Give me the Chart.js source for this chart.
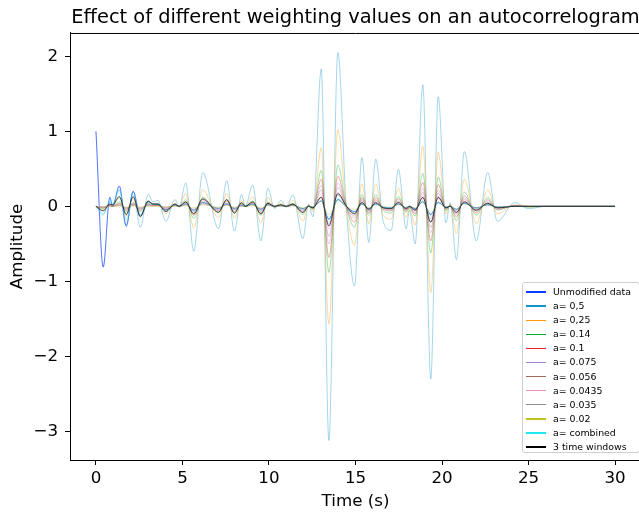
<!DOCTYPE html>
<html>
<head>
<meta charset="utf-8">
<script src="https://cdn.jsdelivr.net/npm/chart.js@4.4.0/dist/chart.umd.min.js"></script>
<style>
  body { margin: 0; background: #fff; overflow: hidden; }
  #wrap { position: relative; width: 639px; height: 512px; overflow: hidden; }
  #legend {
    position: absolute; left: 522px; top: 282px; width: 118px; height: 171px;
    border: 1px solid #d0d0d0; border-radius: 3px; background: rgba(255,255,255,0.85);
    box-sizing: border-box; padding-top: 2px;
    font-family: 'DejaVu Sans', sans-serif; font-size: 9.4px; color: #000;
  }
  .row { height: 14.1px; line-height: 14.1px; white-space: nowrap; display: flex; align-items: center; }
  .swatch { display: inline-block; width: 20px; height: 1.3px; margin-left: 3px; margin-right: 7px; }
</style>
</head>
<body>
<div id="wrap">
  <canvas id="chart" width="646" height="512"></canvas>
  <div id="legend"></div>
</div>
<script>
// Times (s) of the turning points
const times = [
  0, 0.42, 0.8, 0.96, 1.35, 1.75, 2.15, 2.56, 3.02, 3.3,
  3.58, 4.04, 4.56, 4.81, 5.19, 5.65, 6.17, 7.08, 7.56, 8.0,
  8.42, 8.63, 9.06, 9.53, 9.94, 10.32, 10.68, 11.0, 11.38, 11.96,
  12.29, 12.54, 13.02, 13.46, 13.98, 14.45, 14.94, 15.37, 15.77, 16.17,
  16.6, 17.06, 17.48, 17.93, 18.12, 18.45, 18.89, 19.35, 19.78, 20.23,
  20.47, 20.83, 21.29, 21.98, 22.64, 23.2, 24.2, 25.0, 26.0, 30.0
];

const unmodified = [
  1, -0.81, 0.12, 0, 0.27, -0.26, 0.2, -0.12, 0.06, 0.03,
  0.03, -0.05, 0.02, 0, 0.03, -0.05, 0.05, -0.03, 0.03, -0.03,
  0.01, 0, 0.03, -0.04, 0.02, 0, 0.01, 0, 0.02, -0.03,
  0, -0.01, 0.07, -0.17, 0.09, 0, -0.07, 0.03, -0.03, 0.03,
  -0.01, -0.02, 0.03, -0.02, 0, -0.03, 0.06, -0.11, 0.05, -0.01,
  0, -0.04, 0.04, -0.02, 0.02, -0.01, 0, 0, 0, 0
];
const a05 = [
  0, -0.1, 0.06, 0.03, 0.22, -0.27, 0.2, -0.28, 0.16, 0.06,
  0.08, -0.2, 0.09, -0.01, 0.31, -0.6, 0.45, -0.3, 0.34, -0.33,
  0.16, 0.0, 0.28, -0.46, 0.24, -0.03, 0.08, -0.01, 0.15, -0.43,
  0.03, -0.14, 1.83, -3.12, 2.05, 0.05, -1.06, 0.65, -0.48, 0.63,
  -0.2, -0.32, 0.49, -0.3, -0.05, -0.5, 1.62, -2.3, 1.46, -0.22,
  0.05, -0.71, 0.73, -0.46, 0.45, -0.2, 0.05, -0.03, 0, 0
];
const a025 = [
  0, -0.05, 0.03, 0.01, 0.11, -0.13, 0.1, -0.13, 0.08, 0.03,
  0.04, -0.1, 0.04, 0, 0.17, -0.29, 0.22, -0.15, 0.17, -0.16,
  0.08, 0, 0.13, -0.22, 0.12, -0.01, 0.04, 0, 0.08, -0.2,
  0.02, -0.07, 0.78, -1.57, 1.02, 0.03, -0.52, 0.3, -0.23, 0.3,
  -0.12, -0.17, 0.24, -0.15, -0.03, -0.25, 0.8, -1.15, 0.72, -0.1,
  0.03, -0.36, 0.36, -0.23, 0.22, -0.1, 0.02, -0.01, 0, 0
];
const a014 = [
  0, -0.03, 0.02, 0.01, 0.06, -0.07, 0.05, -0.07, 0.04, 0.02,
  0.02, -0.05, 0.02, 0, 0.09, -0.16, 0.12, -0.08, 0.09, -0.09,
  0.04, 0, 0.07, -0.12, 0.06, -0.01, 0.02, 0, 0.04, -0.11,
  0.01, -0.04, 0.48, -0.88, 0.55, 0.02, -0.28, 0.16, -0.12, 0.16,
  -0.06, -0.09, 0.13, -0.08, -0.02, -0.13, 0.44, -0.62, 0.39, -0.06,
  0.01, -0.19, 0.19, -0.12, 0.12, -0.05, 0.01, -0.01, 0, 0
];
const a01 = [
  0, -0.02, 0.01, 0, 0.04, -0.05, 0.04, -0.05, 0.03, 0.01,
  0.02, -0.04, 0.02, 0, 0.06, -0.12, 0.09, -0.06, 0.07, -0.07,
  0.03, 0, 0.05, -0.09, 0.05, -0.01, 0.02, 0, 0.03, -0.08,
  0.01, -0.03, 0.36, -0.68, 0.4, 0.01, -0.21, 0.12, -0.09, 0.12,
  -0.04, -0.06, 0.1, -0.06, -0.01, -0.1, 0.32, -0.46, 0.29, -0.04,
  0.01, -0.14, 0.14, -0.09, 0.09, -0.04, 0.01, 0, 0, 0
];
const a0075 = [
  0, -0.02, 0.01, 0, 0.03, -0.04, 0.03, -0.04, 0.02, 0.01,
  0.01, -0.03, 0.01, 0, 0.05, -0.09, 0.07, -0.05, 0.05, -0.05,
  0.02, 0, 0.04, -0.07, 0.04, 0, 0.01, 0, 0.02, -0.06,
  0, -0.02, 0.28, -0.5, 0.31, 0.01, -0.16, 0.1, -0.07, 0.09,
  -0.03, -0.05, 0.07, -0.05, -0.01, -0.08, 0.24, -0.35, 0.22, -0.03,
  0.01, -0.11, 0.11, -0.07, 0.07, -0.03, 0.01, 0, 0, 0
];
const a0056 = [
  0, -0.01, 0.01, 0, 0.02, -0.03, 0.02, -0.03, 0.02, 0.01,
  0.01, -0.02, 0.01, 0, 0.04, -0.07, 0.05, -0.04, 0.04, -0.04,
  0.02, 0, 0.03, -0.06, 0.03, 0, 0.01, 0, 0.02, -0.05,
  0, -0.02, 0.22, -0.4, 0.25, 0.01, -0.13, 0.08, -0.06, 0.08,
  -0.02, -0.04, 0.06, -0.04, -0.01, -0.06, 0.19, -0.28, 0.18, -0.03,
  0.01, -0.09, 0.09, -0.06, 0.05, -0.02, 0.01, 0, 0, 0
];
const a00435 = [
  0, -0.01, 0.01, 0, 0.02, -0.02, 0.02, -0.02, 0.01, 0.01,
  0.01, -0.02, 0.01, 0, 0.03, -0.05, 0.04, -0.03, 0.03, -0.03,
  0.01, 0, 0.02, -0.04, 0.02, 0, 0.01, 0, 0.01, -0.04,
  0, -0.01, 0.17, -0.3, 0.19, 0, -0.1, 0.06, -0.04, 0.06,
  -0.02, -0.03, 0.04, -0.03, 0, -0.05, 0.15, -0.21, 0.13, -0.02,
  0, -0.06, 0.07, -0.04, 0.04, -0.02, 0, 0, 0, 0
];
const a0035 = [
  0, -0.01, 0, 0, 0.01, -0.02, 0.01, -0.02, 0.01, 0,
  0.01, -0.01, 0.01, 0, 0.02, -0.04, 0.03, -0.02, 0.02, -0.02,
  0.01, 0, 0.02, -0.03, 0.02, 0, 0.01, 0, 0.01, -0.03,
  0, -0.01, 0.13, -0.23, 0.15, 0, -0.08, 0.05, -0.03, 0.04,
  -0.01, -0.02, 0.03, -0.02, 0, -0.04, 0.11, -0.16, 0.1, -0.02,
  0, -0.05, 0.05, -0.03, 0.03, -0.01, 0, 0, 0, 0
];
const a002 = [
  0, -0.01, 0, 0, 0.01, -0.01, 0.01, -0.01, 0, 0,
  0, -0.01, 0, 0, 0.01, -0.02, 0.02, -0.01, 0.01, -0.01,
  0, 0, 0.01, -0.02, 0.01, 0, 0, 0, 0.01, -0.02,
  0, -0.01, 0.07, -0.11, 0.08, 0, -0.04, 0.03, -0.02, 0.02,
  -0.01, -0.01, 0.02, -0.01, 0, -0.02, 0.06, -0.09, 0.06, -0.01,
  0, -0.03, 0.03, -0.02, 0.02, -0.01, 0, 0, 0, 0
];
const combined = [
  0, -0.12, 0.09, 0.02, 0.22, -0.18, 0.16, -0.12, 0.07, 0.03,
  0.03, -0.06, 0.02, 0, 0.04, -0.06, 0.05, -0.03, 0.04, -0.04,
  0.02, 0, 0.03, -0.05, 0.03, 0, 0.01, 0, 0.02, -0.04,
  0, -0.01, 0.08, -0.18, 0.1, 0, -0.08, 0.03, -0.03, 0.03,
  -0.01, -0.02, 0.03, -0.02, 0, -0.03, 0.07, -0.12, 0.06, -0.01,
  0, -0.04, 0.04, -0.03, 0.03, -0.01, 0, 0, 0, 0
];
const timeWindows = [
  0, -0.06, 0.03, 0.02, 0.13, -0.11, 0.13, -0.14, 0.07, 0.03,
  0.03, -0.07, 0.03, 0, 0.06, -0.1, 0.1, -0.08, 0.09, -0.09,
  0.05, 0, 0.06, -0.1, 0.04, 0, 0.02, 0, 0.03, -0.08,
  0, -0.02, 0.12, -0.26, 0.17, 0.01, -0.1, 0.05, -0.04, 0.05,
  -0.02, -0.03, 0.05, -0.03, 0, -0.05, 0.12, -0.21, 0.12, -0.02,
  0, -0.08, 0.06, -0.05, 0.04, -0.02, 0, 0, 0, 0
];

const seriesNames = ['Unmodified data', 'a= 0,5', 'a= 0,25', 'a= 0.14', 'a= 0.1', 'a= 0.075',
  'a= 0.056', 'a= 0.0435', 'a= 0.035', 'a= 0.02', 'a= combined', '3 time windows'];
const seriesValues = [unmodified, a05, a025, a014, a01, a0075, a0056, a00435, a0035, a002, combined, timeWindows];
const seriesColors = ['#0a3cff', '#1596cb', '#ff9a00', '#00b02c', '#e6231f', '#a27fd0',
  '#a2675a', '#f08cca', '#8e8e8e', '#c0c01e', '#1ee8f0', '#000000'];

const xTicks = [0, 5, 10, 15, 20, 25, 30];
const yTicks = [-3, -2, -1, 0, 1, 2];

function faded(hex, alpha) {
  const n = parseInt(hex.slice(1), 16);
  return `rgba(${(n >> 16) & 255},${(n >> 8) & 255},${n & 255},${alpha})`;
}

const datasets = seriesNames.map((name, i) => {
  const strong = i === 0 || i === seriesNames.length - 1;
  return {
    label: name,
    data: times.map((t, k) => ({ x: t, y: seriesValues[i][k] })),
    borderColor: faded(seriesColors[i], strong ? 0.8 : 0.55),
    borderWidth: strong ? 0.9 : 0.7,
    order: seriesNames.length - i
  };
});

const font = { family: 'DejaVu Sans', size: 16.7 };

// top and right axes lines (matplotlib frame)
const frame = {
  id: 'frame',
  afterDraw(chart) {
    const { ctx, chartArea } = chart;
    ctx.save();
    ctx.strokeStyle = '#000';
    ctx.lineWidth = 1;
    ctx.beginPath();
    ctx.moveTo(chartArea.left, chartArea.top + 0.5);
    ctx.lineTo(chartArea.right, chartArea.top + 0.5);
    ctx.lineTo(chartArea.right + 0.5, chartArea.bottom);
    ctx.stroke();
    ctx.restore();
  }
};

new Chart(document.getElementById('chart'), {
  type: 'line',
  data: { datasets },
  options: {
    responsive: false,
    animation: false,
    devicePixelRatio: 1,
    layout: { padding: { right: 5 } },
    elements: {
      point: { radius: 0 },
      line: { cubicInterpolationMode: 'monotone' }
    },
    plugins: {
      legend: { display: false },
      tooltip: { enabled: false },
      title: {
        display: true,
        fullSize: false,
        text: 'Effect of different weighting values on an autocorrelogram',
        color: '#000',
        font: { family: 'DejaVu Sans', size: 19.4, weight: 'normal', lineHeight: 1.2 },
        padding: { top: 6, bottom: 3.7 }
      }
    },
    scales: {
      x: {
        type: 'linear',
        min: -1.5,
        max: 31.5,
        afterBuildTicks: s => { s.ticks = xTicks.map(v => ({ value: v })); },
        afterFit: s => { s.height = 52; },
        grid: { display: true, drawOnChartArea: false, drawTicks: true, tickLength: 5, color: '#000' },
        border: { display: true, color: '#000', width: 1 },
        ticks: { color: '#000', font, padding: 4, maxRotation: 0 },
        title: { display: true, text: 'Time (s)', color: '#000', font, padding: { top: 0, bottom: 0 } }
      },
      y: {
        type: 'linear',
        min: -3.38,
        max: 2.31,
        afterBuildTicks: s => { s.ticks = yTicks.map(v => ({ value: v })); },
        afterFit: s => { s.width = 70; },
        grid: { display: true, drawOnChartArea: false, drawTicks: true, tickLength: 5, color: '#000' },
        border: { display: true, color: '#000', width: 1 },
        ticks: {
          color: '#000', font, padding: 7,
          callback: v => (v < 0 ? '\u2212' + Math.abs(v) : String(v))
        },
        title: { display: true, text: 'Amplitude', color: '#000', font, padding: { top: 7.5, bottom: 0 } }
      }
    }
  },
  plugins: [frame]
});

// legend box in the lower right, like the original
const legend = document.getElementById('legend');
seriesNames.forEach((name, i) => {
  const row = document.createElement('div');
  row.className = 'row';
  row.innerHTML = `<span class="swatch" style="background:${seriesColors[i]}"></span><span>${name}</span>`;
  legend.appendChild(row);
});
</script>
</body>
</html>
